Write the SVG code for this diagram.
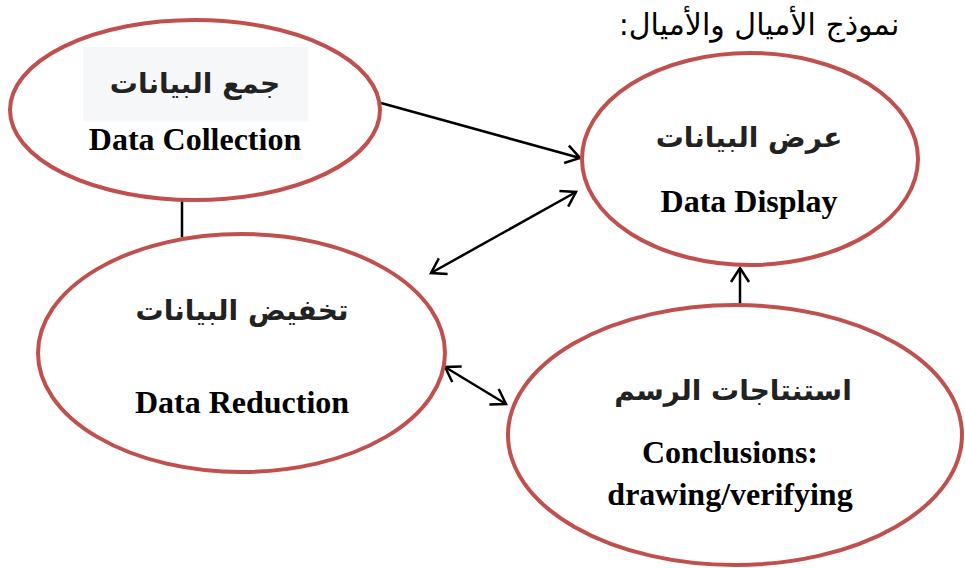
<svg xmlns="http://www.w3.org/2000/svg" width="965" height="568" viewBox="0 0 965 568">
<style>
.node ellipse{fill:#fff;stroke:#c0504d;stroke-width:4}
.ar{font-family:"DejaVu Sans","Noto Sans",sans-serif;font-weight:bold;font-size:28px;fill:#222;text-anchor:middle;direction:rtl}
.en{font-family:"Liberation Serif","Times New Roman",serif;font-weight:bold;font-size:32px;fill:#000;text-anchor:middle}
.title{font-family:"DejaVu Sans","Noto Sans",sans-serif;font-size:30px;fill:#000;text-anchor:middle;direction:rtl}
.conn line{stroke:#000;stroke-width:2.5;fill:none}
</style>
<defs>
<marker id="arr" markerUnits="userSpaceOnUse" markerWidth="22" markerHeight="22" viewBox="0 0 22 22" refX="18" refY="11" orient="auto-start-reverse">
<path d="M4 2 L18 11 L4 20" fill="none" stroke="#000" stroke-width="2.5"/>
</marker>
</defs>
<rect width="965" height="568" fill="#fff"/>
<text class="title" x="759" y="35">نموذج الأميال والأميال:</text>
<g class="conn">
<line x1="182" y1="200" x2="182" y2="237"/>
<line x1="381" y1="103" x2="580" y2="158" marker-end="url(#arr)"/>
<line x1="431" y1="273" x2="576" y2="192" marker-start="url(#arr)" marker-end="url(#arr)"/>
<line x1="445" y1="367" x2="506" y2="404" marker-start="url(#arr)" marker-end="url(#arr)"/>
<line x1="740" y1="305" x2="740" y2="268" marker-end="url(#arr)"/>
</g>
<g id="collection" class="node">
<ellipse cx="195" cy="110" rx="185" ry="90"/>
<rect x="83" y="47" width="225" height="75" fill="#f6f7f9"/>
<text class="ar" x="195" y="93">جمع البيانات</text>
<text class="en" x="195" y="150">Data Collection</text>
</g>
<g id="reduction" class="node">
<ellipse cx="241.5" cy="353" rx="203.5" ry="119"/>
<text class="ar" x="242" y="320">تخفيض البيانات</text>
<text class="en" x="242" y="413">Data Reduction</text>
</g>
<g id="display" class="node">
<ellipse cx="750" cy="159" rx="168" ry="106"/>
<text class="ar" x="749" y="147">عرض البيانات</text>
<text class="en" x="749" y="212">Data Display</text>
</g>
<g id="conclusions" class="node">
<ellipse cx="735" cy="435" rx="227" ry="130"/>
<text class="ar" x="733" y="400">استنتاجات الرسم</text>
<text class="en" x="730" y="463">Conclusions:</text>
<text class="en" x="730" y="505">drawing/verifying</text>
</g>
</svg>
